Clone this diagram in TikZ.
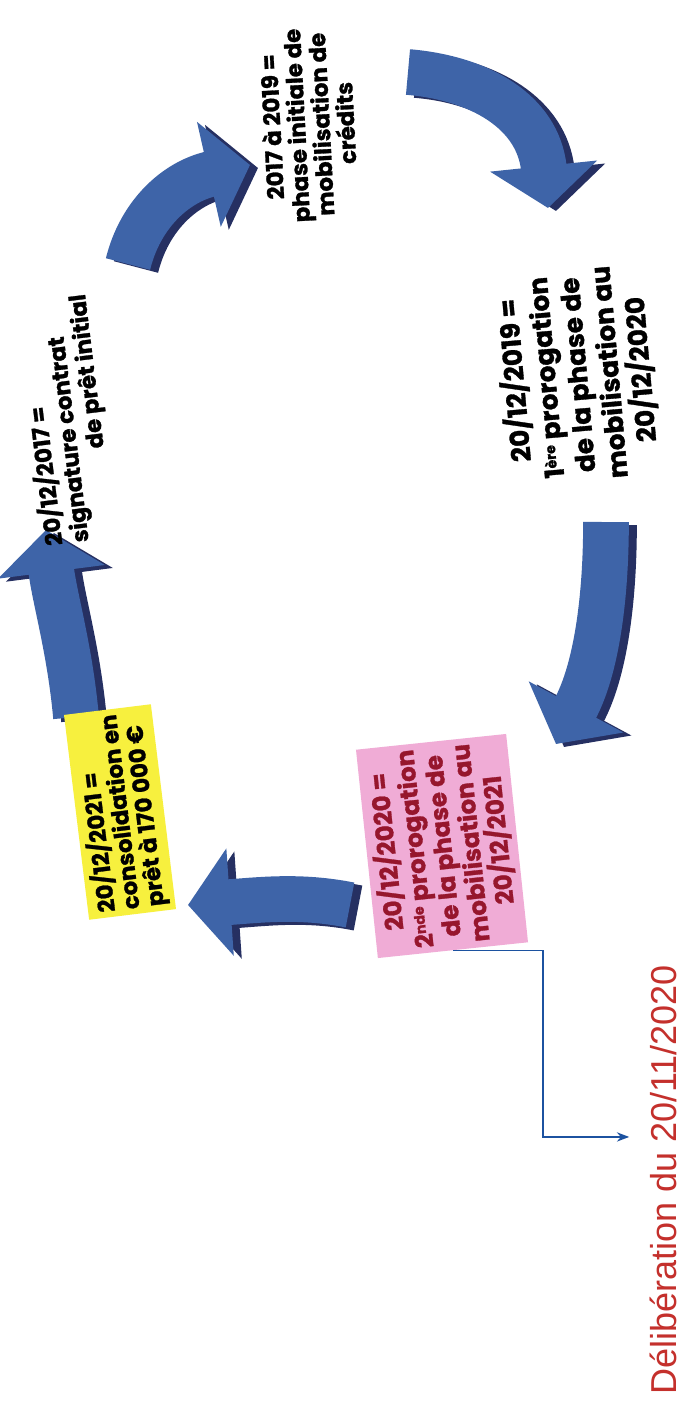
\documentclass[tikz,border=0pt]{standalone}
\usepackage{fontspec}
\setmainfont{Liberation Sans}
\newfontfamily\handfont[BoldFeatures={FakeBold=1.2}]{Poppins}
\usetikzlibrary{arrows.meta,positioning,calc}
\definecolor{arrowblue}{RGB}{62,100,168}
\definecolor{arrowdark}{RGB}{38,48,98}
\definecolor{notepink}{RGB}{240,172,214}
\definecolor{noteyellow}{RGB}{247,240,62}
\definecolor{inkred}{RGB}{150,22,45}
\definecolor{linkblue}{RGB}{28,82,160}
\definecolor{delibred}{RGB}{196,48,44}
\newcommand{\supsmall}[1]{\raisebox{0.45ex}{\fontsize{8}{8}\selectfont #1}}
\tikzset{
  bigarrow/.style={line width=26pt,-{Triangle[width=60pt,length=24pt]}},
  note/.style={font=\handfont\bfseries,align=center,inner sep=3pt},
}

\begin{document}
\begin{tikzpicture}[x=0.02cm,y=-0.02cm]
  \useasboundingbox[fill=white] (0,0) rectangle (682,1417);

  \draw[bigarrow,arrowdark,xshift=0.16cm,yshift=-0.06cm] (128,264) .. controls (140,215) and (175,182) .. (250,165);
  \draw[bigarrow,arrowblue] (128,264) .. controls (140,215) and (175,182) .. (250,165);
  \draw[bigarrow,arrowdark,xshift=0.16cm,yshift=-0.06cm] (408,72) .. controls (480,78) and (538,112) .. (548,208);
  \draw[bigarrow,arrowblue] (408,72) .. controls (480,78) and (538,112) .. (548,208);
  \draw[bigarrow,arrowdark,xshift=0.16cm,yshift=-0.06cm] (606,522) .. controls (606,600) and (596,670) .. (556,744);
  \draw[bigarrow,arrowblue] (606,522) .. controls (606,600) and (596,670) .. (556,744);
  \draw[bigarrow,arrowdark,xshift=0.16cm,yshift=-0.06cm] (350,905) .. controls (300,895) and (260,900) .. (188,905);
  \draw[bigarrow,arrowblue] (350,905) .. controls (300,895) and (260,900) .. (188,905);
  \draw[bigarrow,arrowdark,xshift=0.16cm,yshift=-0.06cm] (76,717) .. controls (70,650) and (55,600) .. (46,530);
  \draw[bigarrow,arrowblue] (76,717) .. controls (70,650) and (55,600) .. (46,530);

  \node[note,rotate=97,font=\handfont\bfseries\fontsize{13}{15}\selectfont,align=left] (sign) at (66,420)
    {20/12/2017 =\\signature contrat\\\hspace*{4em}de prêt initial};
  \node[note,rotate=93,font=\handfont\bfseries\fontsize{13}{14}\selectfont] (phase) at (308,125)
    {2017 à 2019 =\\phase initiale de\\mobilisation de\\crédits};
  \node[note,rotate=95,font=\handfont\bfseries\fontsize{15}{18}\selectfont] (first) at (577,375)
    {20/12/2019 =\\1\supsmall{ère} prorogation\\de la phase de\\mobilisation au\\20/12/2020};
  \node[note,rotate=96,fill=notepink,text=inkred,font=\handfont\bfseries\fontsize{14}{16}\selectfont] (second) at (442,846)
    {20/12/2020 =\\2\supsmall{nde} prorogation\\de la phase de\\mobilisation au\\20/12/2021};
  \node[note,rotate=97,fill=noteyellow,align=left,font=\handfont\bfseries\fontsize{13}{14}\selectfont] (consol) at (120,812)
    {20/12/2021 =\\consolidation en\\prêt à 170 000 €};
  \node[rotate=90,text=delibred,font=\fontsize{20.5}{24}\selectfont,inner sep=0pt] (delib) at (663,1180)
    {Délibération du 20/11/2020};

  \draw[linkblue,line width=1pt,-{Stealth[length=7pt]}] (second.west) -- ++(90,0) |- ($(delib.north)!0.2!(delib.north east)+(-20,0)$);
\end{tikzpicture}
\end{document}
